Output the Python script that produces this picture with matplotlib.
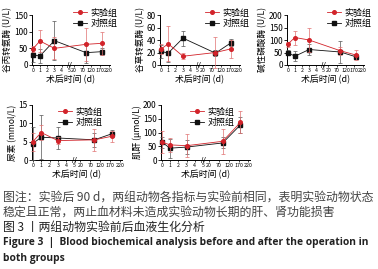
import numpy as np
import matplotlib
matplotlib.use("Agg")
import matplotlib.pyplot as plt
from matplotlib.lines import Line2D

plt.rcParams['font.family'] = ['Noto Sans CJK SC', 'DejaVu Sans']

# days after operation
days = [0, 1, 3, 90, 180]
xticks = [0, 1, 2, 3, 4, 5, 20, 70, 120, 170, 220]

# ALT
alt_exp = [48, 72, 50, 62, 65]
alt_exp_err = [10, 32, 33, 50, 35]
alt_ctl = [30, 27, 73, 37, 40]
alt_ctl_err = [20, 20, 58, 30, 10]

# AST
ast_exp = [25, 34, 14, 20, 26]
ast_exp_err = [8, 28, 5, 25, 14]
ast_ctl = [22, 19, 43, 19, 36]
ast_ctl_err = [10, 14, 12, 5, 5]

# ALP
alp_exp = [83, 110, 100, 57, 40]
alp_exp_err = [10, 28, 48, 15, 20]
alp_ctl = [50, 35, 62, 52, 33]
alp_ctl_err = [10, 20, 22, 45, 10]

# urea
urea_exp = [5.0, 7.5, 5.3, 5.5, 6.5]
urea_exp_err = [2.5, 2.0, 1.0, 3.0, 1.5]
urea_ctl = [4.5, 6.2, 6.0, 5.5, 7.2]
urea_ctl_err = [4.5, 6.0, 3.0, 2.0, 1.0]

# creatinine
cre_exp = [65, 55, 52, 68, 137]
cre_exp_err = [40, 25, 42, 45, 40]
cre_ctl = [65, 43, 47, 62, 128]
cre_ctl_err = [20, 35, 25, 20, 30]

RED = '#d2232a'
BLACK = '#111111'


# broken time axis: 0-5 d linear, then 20-220 d compressed
def fwd(d):
    d = np.asarray(d, dtype=float)
    return np.where(d <= 5, d,
                    np.where(d >= 20, 5.7 + (d - 20) * 0.024, 5 + (d - 5) * 0.7 / 15))


def inv(p):
    p = np.asarray(p, dtype=float)
    return np.where(p <= 5, p,
                    np.where(p >= 5.7, 20 + (p - 5.7) / 0.024, 5 + (p - 5) * 15 / 0.7))


W, H = 378, 269
fig = plt.figure(figsize=(W / 100, H / 100), dpi=100)


def panel(box, ylab, yticks, exp, exp_err, ctl, ctl_err, leg_box):
    l, r, t, b = box
    ax = fig.add_axes([l / W, 1 - b / H, (r - l) / W, (b - t) / H])
    ax.set_xscale('function', functions=(fwd, inv))
    ax.errorbar(days, ctl, yerr=ctl_err, color=BLACK, ecolor='#555555', marker='s',
                ms=2.6, lw=0.6, elinewidth=0.5, capsize=1.2, capthick=0.5, clip_on=False, zorder=3)
    ax.errorbar(days, exp, yerr=exp_err, color=RED, ecolor='#e07070', marker='o',
                ms=2.6, lw=0.6, elinewidth=0.5, capsize=1.2, capthick=0.5, clip_on=False, zorder=4)
    ax.set_xlim(-0.1, 228)
    ax.set_ylim(yticks[0], yticks[-1])
    ax.set_yticks(yticks)
    ax.set_xticks(xticks)
    ax.set_xticklabels([str(v) for v in xticks], fontsize=3.8)
    ax.xaxis.set_minor_locator(matplotlib.ticker.NullLocator())
    ax.tick_params(axis='y', labelsize=6, length=2, width=0.6, pad=1)
    ax.tick_params(axis='x', length=1.5, width=0.5, pad=1)
    for s in ['top', 'right']:
        ax.spines[s].set_visible(False)
    for s in ['left', 'bottom']:
        ax.spines[s].set_linewidth(0.7)
    ax.set_ylabel(ylab, fontsize=6.2, labelpad=1)
    ax.set_xlabel('术后时间 (d)', fontsize=6.4, labelpad=1)
    ax.text(float(fwd(12)), 0, '//', transform=ax.get_xaxis_transform(), fontsize=5,
            ha='center', va='center', family='DejaVu Sans')
    handles = [Line2D([], [], color=RED, marker='o', ms=2.6, lw=0.6),
               Line2D([], [], color=BLACK, marker='s', ms=2.6, lw=0.6)]
    ax.legend(handles, ['实验组', '对照组'], loc='upper left',
              bbox_to_anchor=(leg_box[0] / W, 1 - leg_box[1] / H),
              bbox_transform=fig.transFigure, frameon=False, fontsize=6.5,
              handlelength=1.6, handletextpad=0.4, labelspacing=0.15, borderpad=0)
    return ax


panel((32, 110, 15, 65), '谷丙转氨酶 (U/L)', [0, 50, 100, 150],
      alt_exp, alt_exp_err, alt_ctl, alt_ctl_err, (68, 4))
panel((160, 240, 15, 65), '谷草转氨酶 (U/L)', [0, 20, 40, 60, 80],
      ast_exp, ast_exp_err, ast_ctl, ast_ctl_err, (200, 4))
panel((287, 364, 15, 65), '碱性磷酸酶 (U/L)', [0, 50, 100, 150, 200],
      alp_exp, alp_exp_err, alp_ctl, alp_ctl_err, (322, 4))
panel((32, 122, 105, 160), '尿素 (mmol/L)', [0, 5, 10, 15],
      urea_exp, urea_exp_err, urea_ctl, urea_ctl_err, (53, 103))
panel((161, 250, 105, 160), '肌酐 (μmol/L)', [0, 50, 100, 150, 200],
      cre_exp, cre_exp_err, cre_ctl, cre_ctl_err, (185, 103))

# caption
fig.text(3 / W, 1 - 197 / H, '图注：实验后 90 d，两组动物各指标与实验前相同，表明实验动物状态',
         fontsize=8.6, color='#444444', va='center')
fig.text(3 / W, 1 - 212 / H, '稳定且正常，两止血材料未造成实验动物长期的肝、肾功能损害',
         fontsize=8.6, color='#444444', va='center')
fig.text(3 / W, 1 - 227 / H, '图 3 丨两组动物实验前后血液生化分析',
         fontsize=8.6, color='#222222', va='center')
fig.text(3 / W, 1 - 243 / H, 'Figure 3  |  Blood biochemical analysis before and after the operation in',
         fontsize=7.4, color='#222222', va='center', weight='bold', family=['Open Sans', 'DejaVu Sans'])
fig.text(3 / W, 1 - 258 / H, 'both groups',
         fontsize=7.4, color='#222222', va='center', weight='bold', family=['Open Sans', 'DejaVu Sans'])

fig.savefig('out.png', dpi=100)
